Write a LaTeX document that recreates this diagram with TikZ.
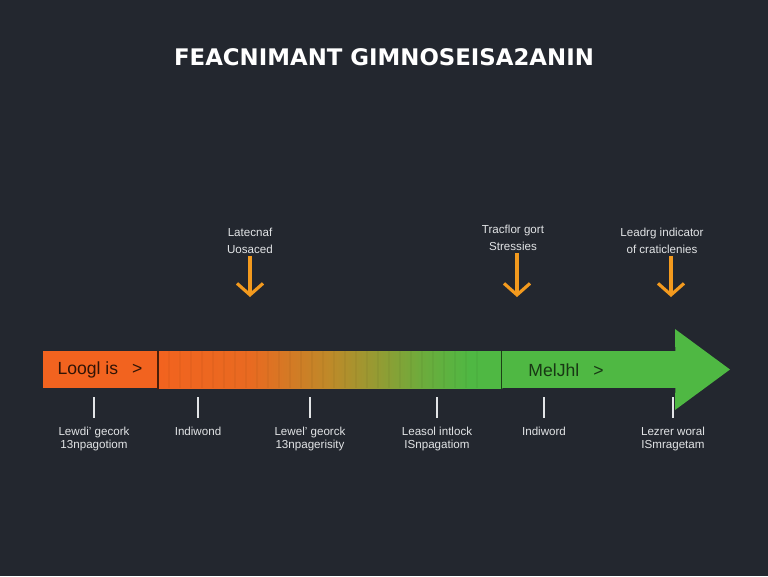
\documentclass[tikz,border=0pt]{standalone}
\usepackage{fontspec}
\setmainfont{Liberation Sans}
\newfontfamily\titlefont{DejaVu Sans}
\usetikzlibrary{arrows.meta, positioning, calc}
\definecolor{bgdark}{HTML}{23272F}
\definecolor{barorange}{HTML}{F2631F}
\definecolor{bargreen}{HTML}{4FB843}
\definecolor{barmid}{HTML}{BE8A29}
\definecolor{markorange}{HTML}{F39A1E}
\definecolor{labgray}{HTML}{E2E4E6}
\tikzset{
  segbox/.style={rectangle, inner sep=0pt, minimum height=0.74cm, anchor=north west},
  bartext/.style={font=\fontsize{10}{12}\selectfont, inner sep=0pt},
  toplabel/.style={align=center, text=labgray, font=\fontsize{6.6}{9.6}\selectfont, inner sep=1pt},
  ticklabel/.style={align=center, text=labgray, font=\fontsize{6.6}{7.2}\selectfont, inner sep=1pt, anchor=north},
  downarr/.style={-{Straight Barb[length=2.3mm, width=5.2mm]}, line width=1.8pt, draw=markorange},
  tickline/.style={draw=labgray, line width=0.9pt},
}
\begin{document}
\begin{tikzpicture}[x=0.02cm, y=-0.02cm]
  \fill[bgdark] (0,0) rectangle (768,576);

  \node[text=white, font=\titlefont\bfseries\fontsize{13}{15}\selectfont] (title) at (384,57) {FEACNIMANT GIMNOSEISA2ANIN};

  % timeline bar
  \node[segbox, fill=barorange, minimum width=2.32cm] (lgbox) at (43,351) {};
  \node[segbox, minimum width=6.86cm] (grad) at (158,351) {};
  \node[segbox, fill=bargreen, minimum width=3.50cm] (mgbox) at (grad.north east) {};
  \fill[bargreen] ($(mgbox.north east)+(-2,0)$) -- (675,329) -- (730,369.5) -- (675,410)
    -- ($(mgbox.south east)+(-2,0)$) -- cycle;
  % gradient in pieces
  \foreach \xa/\xb/\ca/\cb in {158/250/barorange/barorange!82!barmid,
      250/330/barorange!82!barmid/barmid, 330/420/barmid/bargreen!72!barmid,
      420/470/bargreen!72!barmid/bargreen, 470/502/bargreen/bargreen} {
    \fill[left color=\ca, right color=\cb] (\xa-0.3,351) rectangle (\xb+0.3,388);
  }
  \foreach \x in {169,180,...,480} {
    \draw[black, opacity=0.035, line width=0.6pt] (\x,351) -- (\x,388);
  }
  \draw[black!70!barorange, line width=0.8pt] (grad.north west) -- (grad.south west);
  \draw[black!65!bargreen, line width=0.8pt] (mgbox.north west) -- (mgbox.south west);

  \node[bartext, text=black!80!barorange] (lglab) at (100,370) {Loogl is\hspace{0.8em}>};
  \node[bartext, text=black!70!bargreen] (mglab) at (566,370) {MelJhl\hspace{0.8em}>};

  % markers above
  \node[toplabel] (lat) at (250,241) {Latecnaf\\Uosaced};
  \node[toplabel] (trac) at (513,238) {Tracflor gort\\Stressies};
  \node[toplabel] (lead) at (662,241) {Leadrg indicator\\of craticlenies};
  \coordinate (latend) at (250,297);
  \coordinate (tracend) at (517,297);
  \coordinate (leadend) at (671,297);
  \foreach \a/\b in {lat/latend, trac/tracend, lead/leadend} {
    \draw[downarr] (\a.south -| \b) -- (\b);
  }

  % ticks below
  \foreach \i/\x/\txt in {1/94/{Lewdi' gecork\\13npagotiom}, 2/198/{Indiwond},
      3/310/{Lewel' georck\\13npagerisity}, 4/437/{Leasol intlock\\ISnpagatiom},
      5/544/{Indiword}, 6/673/{Lezrer woral\\ISmragetam}} {
    \coordinate (c\i) at (\x,397);
    \node[ticklabel] (t\i) at (\x,425) {\txt};
    \draw[tickline] (c\i) -- (\x,418);
  }
\end{tikzpicture}
\end{document}
